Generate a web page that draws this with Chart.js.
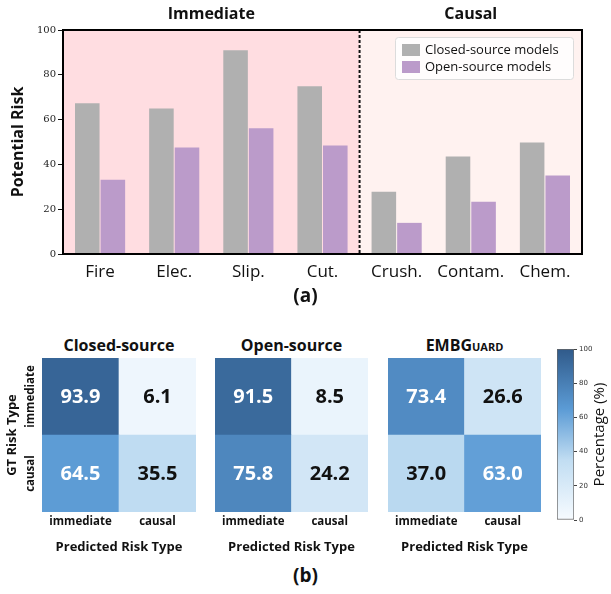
<!DOCTYPE html>
<html>
<head>
<meta charset="utf-8">
<script src="https://cdn.jsdelivr.net/npm/chart.js@4.4.0/dist/chart.umd.min.js"></script>
<style>
    body { margin: 0; background: #fff; width: 611px; height: 594px; position: relative; overflow: hidden; font-family: 'Open Sans', sans-serif; }
    canvas { position: absolute; }
    .lbl { position: absolute; font-weight: 700; color: #111; text-align: center; white-space: nowrap; line-height: 20px; }
</style>
</head>
<body>
<canvas id="riskChart" style="left:0;top:0" width="611" height="290"></canvas>
<div class="lbl" style="left:0;width:611px;top:285px;font-size:19px">(a)</div>

<div class="lbl" style="left:42px;width:154px;top:335px;font-size:16px">Closed-source</div>
<div class="lbl" style="left:215px;width:153px;top:335px;font-size:16px">Open-source</div>
<div class="lbl" style="left:388px;width:153px;top:335px;font-size:16px">EMBG<span style="font-variant:small-caps">uard</span></div>

<canvas id="hmClosed" style="left:0;top:350px" width="200" height="212"></canvas>
<canvas id="hmOpen" style="left:205px;top:350px" width="170" height="212"></canvas>
<canvas id="hmGuard" style="left:380px;top:350px" width="165" height="212"></canvas>
<canvas id="colorbar" style="left:545px;top:340px" width="66" height="190"></canvas>
<div class="lbl" style="left:0;width:611px;top:565px;font-size:19px">(b)</div>

<script>
// ---- bar chart data (a)
const categories = ['Fire', 'Elec.', 'Slip.', 'Cut.', 'Crush.', 'Contam.', 'Chem.'];
const closedRisk = [67.3, 65.0, 91.0, 74.9, 27.8, 43.5, 49.8];
const openRisk = [33.2, 47.5, 56.1, 48.4, 13.9, 23.3, 35.0];
const groupNames = ['Immediate', 'Causal'];
const groupSizes = [4, 3];
const riskTicks = [0, 20, 40, 60, 80, 100];

// ---- confusion matrices (b), rows = GT, cols = predicted
const riskTypes = ['immediate', 'causal'];
const closedConf = [[93.9, 6.1], [64.5, 35.5]];
const openConf = [[91.5, 8.5], [75.8, 24.2]];
const guardConf = [[73.4, 26.6], [37.0, 63.0]];
const colorbarTicks = [0, 20, 40, 60, 80, 100];

const FONT = "'Open Sans', sans-serif";
const GRAY = '#b0b0b0';
const PURPLE = '#bb9bca';

// blues colormap used by the heatmaps
const cmapStops = [[0, [247, 251, 255]], [35, [193, 221, 242]], [65, [91, 155, 213]], [100, [48, 90, 138]]];

function cmap(v) {
    for (let i = 1; i < cmapStops.length; i++) {
        const [v0, c0] = cmapStops[i - 1];
        const [v1, c1] = cmapStops[i];
        if (v <= v1) {
            const t = (v - v0) / (v1 - v0);
            const c = c0.map((x, k) => Math.round(x + (c1[k] - x) * t));
            return `rgb(${c[0]}, ${c[1]}, ${c[2]})`;
        }
    }
    const c = cmapStops[cmapStops.length - 1][1];
    return `rgb(${c[0]}, ${c[1]}, ${c[2]})`;
}

// shading, split line, frame, group labels and legend for the bar chart
const riskDecor = {
    id: 'riskDecor',
    beforeDraw(chart) {
        const { ctx, chartArea: a, scales: { x } } = chart;
        const split = x.getPixelForValue(groupSizes[0] - 0.5);
        ctx.save();
        ctx.fillStyle = '#ffdde1';
        ctx.fillRect(a.left, a.top, split - a.left, a.bottom - a.top);
        ctx.fillStyle = '#fff2f0';
        ctx.fillRect(split, a.top, a.right - split, a.bottom - a.top);
        ctx.restore();
    },
    afterDraw(chart) {
        const { ctx, chartArea: a, scales: { x } } = chart;
        ctx.save();

        // dashed divider
        const split = x.getPixelForValue(groupSizes[0] - 0.5);
        ctx.strokeStyle = '#111';
        ctx.lineWidth = 2;
        ctx.setLineDash([3, 2]);
        ctx.beginPath();
        ctx.moveTo(split, a.top);
        ctx.lineTo(split, a.bottom);
        ctx.stroke();
        ctx.setLineDash([]);

        // frame
        ctx.strokeStyle = '#000';
        ctx.lineWidth = 2;
        ctx.strokeRect(a.left, a.top, a.right - a.left, a.bottom - a.top);

        // group titles above the plot
        ctx.fillStyle = '#111';
        ctx.font = `bold 16px ${FONT}`;
        ctx.textAlign = 'center';
        ctx.textBaseline = 'middle';
        let start = 0;
        groupNames.forEach((name, i) => {
            const l = Math.max(a.left, x.getPixelForValue(start - 0.5));
            const r = Math.min(a.right, x.getPixelForValue(start + groupSizes[i] - 0.5));
            ctx.fillText(name, (l + r) / 2, 14);
            start += groupSizes[i];
        });

        // legend
        const bw = 178, bh = 42;
        const bx = a.right - 9 - bw, by = a.top + 7;
        ctx.fillStyle = 'rgba(255,255,255,0.85)';
        ctx.strokeStyle = '#dcdcdc';
        ctx.lineWidth = 1;
        ctx.beginPath();
        ctx.roundRect(bx + 0.5, by + 0.5, bw, bh, 3);
        ctx.fill();
        ctx.stroke();
        ctx.font = `13px ${FONT}`;
        ctx.textAlign = 'left';
        chart.data.datasets.forEach((ds, i) => {
            const yy = by + 7 + i * 17;
            ctx.fillStyle = ds.backgroundColor;
            ctx.fillRect(bx + 7, yy, 18, 12);
            ctx.fillStyle = '#111';
            ctx.fillText(ds.label, bx + 30, yy + 6.5);
        });
        ctx.restore();
    }
};

new Chart(document.getElementById('riskChart'), {
    type: 'bar',
    data: {
        labels: categories,
        datasets: [
            { label: 'Closed-source models', data: closedRisk, backgroundColor: GRAY },
            { label: 'Open-source models', data: openRisk, backgroundColor: PURPLE }
        ]
    },
    options: {
        responsive: false,
        animation: false,
        events: [],
        layout: { padding: { top: 30, right: 29, left: 0, bottom: 0 } },
        datasets: { bar: { categoryPercentage: 0.69, barPercentage: 0.96, borderWidth: 0 } },
        plugins: { legend: { display: false }, tooltip: { enabled: false } },
        scales: {
            x: {
                grid: { display: false, drawTicks: false },
                border: { display: false },
                ticks: { font: { family: FONT, size: 17 }, color: '#111', padding: 8 },
                afterFit(s) { s.height = 36; }
            },
            y: {
                min: 0,
                max: 100,
                afterBuildTicks(s) { s.ticks = riskTicks.map(v => ({ value: v })); },
                grid: { drawOnChartArea: false, tickLength: 5, color: '#111' },
                border: { display: false },
                ticks: { font: { family: "'DejaVu Serif', serif", size: 10 }, color: '#222', padding: 2 },
                title: {
                    display: true,
                    text: 'Potential Risk',
                    font: { family: FONT, size: 16, weight: 'bold' },
                    color: '#111',
                    padding: { top: 9, bottom: 0 }
                },
                afterFit(s) { s.width = 63; }
            }
        }
    },
    plugins: [riskDecor]
});

// numbers inside the cells, and the GT labels on the first heatmap
const cellText = {
    id: 'cellText',
    afterDatasetsDraw(chart, args, opts) {
        const { ctx, chartArea: a, scales: { y } } = chart;
        ctx.save();
        ctx.textAlign = 'center';
        ctx.textBaseline = 'middle';
        ctx.font = `bold 20px ${FONT}`;
        chart.data.datasets.forEach((ds, di) => {
            chart.getDatasetMeta(di).data.forEach((el, ci) => {
                const v = opts.matrix[ds.row][ci];
                ctx.fillStyle = v > 50 ? '#fff' : '#111';
                ctx.fillText(v.toFixed(1), el.x, (el.y + el.base) / 2 + 1);
            });
        });
        if (opts.showRows) {
            ctx.fillStyle = '#111';
            ctx.font = `bold 11.5px ${FONT}`;
            riskTypes.forEach((t, r) => {
                ctx.save();
                ctx.translate(a.left - 11, y.getPixelForValue(riskTypes.length - r - 0.5));
                ctx.rotate(-Math.PI / 2);
                ctx.fillText(t, 0, 0);
                ctx.restore();
            });
            ctx.font = `bold 13px ${FONT}`;
            ctx.translate(12, (a.top + a.bottom) / 2);
            ctx.rotate(-Math.PI / 2);
            ctx.fillText('GT Risk Type', 0, 0);
        }
        ctx.restore();
    }
};

function makeHeatmap(id, matrix, showRows, pad) {
    return new Chart(document.getElementById(id), {
        type: 'bar',
        data: {
            labels: riskTypes,
            datasets: [1, 0].map(r => ({
                label: riskTypes[r],
                row: r,
                data: riskTypes.map(() => 1),
                backgroundColor: matrix[r].map(v => cmap(v)),
                borderWidth: 0,
                barPercentage: 1,
                categoryPercentage: 1
            }))
        },
        options: {
            responsive: false,
            animation: false,
            events: [],
            layout: { padding: pad },
            plugins: {
                legend: { display: false },
                tooltip: { enabled: false },
                cellText: { matrix: matrix, showRows: showRows }
            },
            scales: {
                x: {
                    stacked: true,
                    grid: { display: false, drawTicks: false },
                    border: { display: false },
                    ticks: { font: { family: FONT, size: 11.5, weight: 'bold' }, color: '#111', padding: 3 },
                    title: {
                        display: true,
                        text: 'Predicted Risk Type',
                        font: { family: FONT, size: 13, weight: 'bold' },
                        color: '#111',
                        padding: { top: 0, bottom: 7 }
                    },
                    afterFit(s) { s.height = 50; }
                },
                y: { stacked: true, display: false, min: 0, max: riskTypes.length }
            }
        },
        plugins: [cellText]
    });
}

makeHeatmap('hmClosed', closedConf, true, { top: 8, left: 42, right: 4, bottom: 0 });
makeHeatmap('hmOpen', openConf, false, { top: 8, left: 10, right: 7, bottom: 0 });
makeHeatmap('hmGuard', guardConf, false, { top: 8, left: 8, right: 4, bottom: 0 });

// colorbar
const cbarLabel = {
    id: 'cbarLabel',
    afterDraw(chart) {
        const { ctx, chartArea: a } = chart;
        ctx.save();
        ctx.fillStyle = '#111';
        ctx.font = `15px ${FONT}`;
        ctx.textAlign = 'center';
        ctx.textBaseline = 'middle';
        ctx.translate(a.right + 26, (a.top + a.bottom) / 2);
        ctx.rotate(-Math.PI / 2);
        ctx.fillText('Percentage (%)', 0, 0);
        ctx.restore();
    }
};

new Chart(document.getElementById('colorbar'), {
    type: 'bar',
    data: {
        labels: [''],
        datasets: [{
            data: [[colorbarTicks[0], colorbarTicks[colorbarTicks.length - 1]]],
            backgroundColor(c) {
                const chart = c.chart;
                if (!chart.chartArea) return null;
                const y = chart.scales.y;
                const g = chart.ctx.createLinearGradient(0, y.getPixelForValue(0), 0, y.getPixelForValue(100));
                cmapStops.forEach(([v]) => g.addColorStop(v / 100, cmap(v)));
                return g;
            },
            borderColor: '#666',
            borderWidth: 1,
            borderSkipped: false,
            barPercentage: 1,
            categoryPercentage: 1
        }]
    },
    options: {
        responsive: false,
        animation: false,
        events: [],
        layout: { padding: { top: 9, left: 12, right: 0, bottom: 10 } },
        plugins: { legend: { display: false }, tooltip: { enabled: false } },
        scales: {
            x: { display: false },
            y: {
                position: 'right',
                min: 0,
                max: 100,
                afterBuildTicks(s) { s.ticks = colorbarTicks.map(v => ({ value: v })); },
                grid: { drawOnChartArea: false, tickLength: 3, color: '#444' },
                border: { display: false },
                ticks: { font: { family: "'DejaVu Sans', sans-serif", size: 7 }, color: '#333', padding: 2 },
                afterFit(s) { s.width = 37; }
            }
        }
    },
    plugins: [cbarLabel]
});
</script>
</body>
</html>
